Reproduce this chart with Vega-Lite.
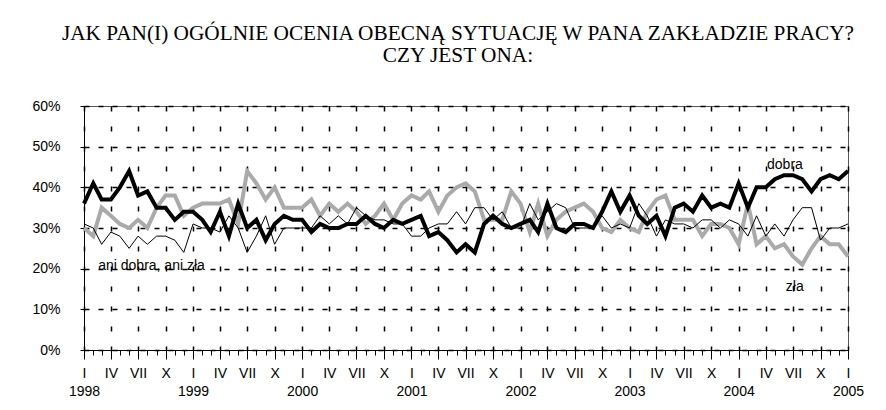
{
  "$schema": "https://vega.github.io/schema/vega-lite/v6.json",
  "width": 764,
  "height": 244,
  "autosize": "none",
  "padding": {"left": 84, "top": 106, "right": 38, "bottom": 60},
  "background": "white",
  "config": {"view": {"stroke": "#555555", "strokeWidth": 1}},
  "title": {
    "text": ["JAK PAN(I) OGÓLNIE OCENIA OBECNĄ SYTUACJĘ W PANA ZAKŁADZIE PRACY?", "CZY JEST ONA:"],
    "font": "Liberation Serif", "fontSize": 21.3, "fontWeight": "normal", "color": "black",
    "lineHeight": 22, "anchor": "middle", "frame": "group", "offset": 33, "dx": -8
  },
  "data": {"values": [
    {"date":"1998-01-01T00:00:00","dobra":36,"zla":30,"ani":31},
    {"date":"1998-02-01T00:00:00","dobra":41,"zla":28,"ani":30},
    {"date":"1998-03-01T00:00:00","dobra":37,"zla":35,"ani":26},
    {"date":"1998-04-01T00:00:00","dobra":37,"zla":33,"ani":29},
    {"date":"1998-05-01T00:00:00","dobra":40,"zla":31,"ani":28},
    {"date":"1998-06-01T00:00:00","dobra":44,"zla":30,"ani":25},
    {"date":"1998-07-01T00:00:00","dobra":38,"zla":32,"ani":28},
    {"date":"1998-08-01T00:00:00","dobra":39,"zla":30,"ani":26},
    {"date":"1998-09-01T00:00:00","dobra":35,"zla":35,"ani":28},
    {"date":"1998-10-01T00:00:00","dobra":35,"zla":38,"ani":28},
    {"date":"1998-11-01T00:00:00","dobra":32,"zla":38,"ani":27},
    {"date":"1998-12-01T00:00:00","dobra":34,"zla":33,"ani":24},
    {"date":"1999-01-01T00:00:00","dobra":34,"zla":35,"ani":31},
    {"date":"1999-02-01T00:00:00","dobra":32,"zla":36,"ani":30},
    {"date":"1999-03-01T00:00:00","dobra":29,"zla":36,"ani":30},
    {"date":"1999-04-01T00:00:00","dobra":34,"zla":36,"ani":29},
    {"date":"1999-05-01T00:00:00","dobra":28,"zla":37,"ani":33},
    {"date":"1999-06-01T00:00:00","dobra":36,"zla":31,"ani":30},
    {"date":"1999-07-01T00:00:00","dobra":30,"zla":44,"ani":24},
    {"date":"1999-08-01T00:00:00","dobra":32,"zla":41,"ani":28},
    {"date":"1999-09-01T00:00:00","dobra":27,"zla":37,"ani":33},
    {"date":"1999-10-01T00:00:00","dobra":31,"zla":40,"ani":26},
    {"date":"1999-11-01T00:00:00","dobra":33,"zla":35,"ani":30},
    {"date":"1999-12-01T00:00:00","dobra":32,"zla":35,"ani":30},
    {"date":"2000-01-01T00:00:00","dobra":32,"zla":35,"ani":30},
    {"date":"2000-02-01T00:00:00","dobra":29,"zla":37,"ani":30},
    {"date":"2000-03-01T00:00:00","dobra":31,"zla":33,"ani":33},
    {"date":"2000-04-01T00:00:00","dobra":30,"zla":36,"ani":31},
    {"date":"2000-05-01T00:00:00","dobra":30,"zla":34,"ani":33},
    {"date":"2000-06-01T00:00:00","dobra":31,"zla":36,"ani":31},
    {"date":"2000-07-01T00:00:00","dobra":31,"zla":34,"ani":35},
    {"date":"2000-08-01T00:00:00","dobra":33,"zla":31,"ani":33},
    {"date":"2000-09-01T00:00:00","dobra":31,"zla":33,"ani":32},
    {"date":"2000-10-01T00:00:00","dobra":30,"zla":36,"ani":32},
    {"date":"2000-11-01T00:00:00","dobra":32,"zla":32,"ani":31},
    {"date":"2000-12-01T00:00:00","dobra":31,"zla":36,"ani":31},
    {"date":"2001-01-01T00:00:00","dobra":32,"zla":38,"ani":28},
    {"date":"2001-02-01T00:00:00","dobra":33,"zla":37,"ani":28},
    {"date":"2001-03-01T00:00:00","dobra":28,"zla":39,"ani":30},
    {"date":"2001-04-01T00:00:00","dobra":29,"zla":34,"ani":31},
    {"date":"2001-05-01T00:00:00","dobra":27,"zla":38,"ani":31},
    {"date":"2001-06-01T00:00:00","dobra":24,"zla":40,"ani":34},
    {"date":"2001-07-01T00:00:00","dobra":26,"zla":41,"ani":31},
    {"date":"2001-08-01T00:00:00","dobra":24,"zla":39,"ani":35},
    {"date":"2001-09-01T00:00:00","dobra":31,"zla":32,"ani":35},
    {"date":"2001-10-01T00:00:00","dobra":33,"zla":32,"ani":32},
    {"date":"2001-11-01T00:00:00","dobra":31,"zla":32,"ani":34},
    {"date":"2001-12-01T00:00:00","dobra":30,"zla":39,"ani":30},
    {"date":"2002-01-01T00:00:00","dobra":31,"zla":36,"ani":30},
    {"date":"2002-02-01T00:00:00","dobra":32,"zla":29,"ani":36},
    {"date":"2002-03-01T00:00:00","dobra":29,"zla":36,"ani":32},
    {"date":"2002-04-01T00:00:00","dobra":36,"zla":28,"ani":34},
    {"date":"2002-05-01T00:00:00","dobra":30,"zla":32,"ani":36},
    {"date":"2002-06-01T00:00:00","dobra":29,"zla":34,"ani":35},
    {"date":"2002-07-01T00:00:00","dobra":31,"zla":35,"ani":30},
    {"date":"2002-08-01T00:00:00","dobra":31,"zla":36,"ani":30},
    {"date":"2002-09-01T00:00:00","dobra":30,"zla":34,"ani":30},
    {"date":"2002-10-01T00:00:00","dobra":34,"zla":30,"ani":33},
    {"date":"2002-11-01T00:00:00","dobra":39,"zla":29,"ani":30},
    {"date":"2002-12-01T00:00:00","dobra":34,"zla":32,"ani":31},
    {"date":"2003-01-01T00:00:00","dobra":38,"zla":30,"ani":30},
    {"date":"2003-02-01T00:00:00","dobra":33,"zla":29,"ani":36},
    {"date":"2003-03-01T00:00:00","dobra":31,"zla":34,"ani":33},
    {"date":"2003-04-01T00:00:00","dobra":33,"zla":37,"ani":28},
    {"date":"2003-05-01T00:00:00","dobra":28,"zla":38,"ani":32},
    {"date":"2003-06-01T00:00:00","dobra":35,"zla":32,"ani":31},
    {"date":"2003-07-01T00:00:00","dobra":36,"zla":32,"ani":31},
    {"date":"2003-08-01T00:00:00","dobra":34,"zla":32,"ani":30},
    {"date":"2003-09-01T00:00:00","dobra":38,"zla":28,"ani":32},
    {"date":"2003-10-01T00:00:00","dobra":35,"zla":31,"ani":32},
    {"date":"2003-11-01T00:00:00","dobra":36,"zla":31,"ani":30},
    {"date":"2003-12-01T00:00:00","dobra":35,"zla":30,"ani":32},
    {"date":"2004-01-01T00:00:00","dobra":41,"zla":26,"ani":31},
    {"date":"2004-02-01T00:00:00","dobra":35,"zla":36,"ani":28},
    {"date":"2004-03-01T00:00:00","dobra":40,"zla":26,"ani":33},
    {"date":"2004-04-01T00:00:00","dobra":40,"zla":28,"ani":28},
    {"date":"2004-05-01T00:00:00","dobra":42,"zla":25,"ani":31},
    {"date":"2004-06-01T00:00:00","dobra":43,"zla":26,"ani":28},
    {"date":"2004-07-01T00:00:00","dobra":43,"zla":23,"ani":32},
    {"date":"2004-08-01T00:00:00","dobra":42,"zla":21,"ani":35},
    {"date":"2004-09-01T00:00:00","dobra":39,"zla":25,"ani":35},
    {"date":"2004-10-01T00:00:00","dobra":42,"zla":28,"ani":27},
    {"date":"2004-11-01T00:00:00","dobra":43,"zla":26,"ani":30},
    {"date":"2004-12-01T00:00:00","dobra":42,"zla":26,"ani":30},
    {"date":"2005-01-01T00:00:00","dobra":44,"zla":23,"ani":31}
  ]},
  "transform": [{"fold": ["zla", "dobra", "ani"], "as": ["series", "value"]}],
  "encoding": {
    "x": {"field": "date", "type": "temporal",
      "scale": {"domain": [{"year": 1998, "month": 1, "date": 1}, {"year": 2005, "month": 1, "date": 1}], "nice": false},
      "axis": {"orient": "bottom", "title": null, "tickCount": {"interval": "month", "step": 1},
        "labelExpr": "month(datum.value) % 3 != 0 ? '' : month(datum.value)==0 ? ['I', timeFormat(datum.value, '%Y')] : month(datum.value)==3 ? 'IV' : month(datum.value)==6 ? 'VII' : 'X'",
        "tickSize": {"condition": {"test": "month(datum.value) % 3 == 0", "value": 9}, "value": 5},
        "tickColor": "black", "domainColor": "black",
        "grid": true, "gridDash": [5, 15], "gridColor": "black", "gridWidth": 1.5,
        "gridOpacity": {"condition": {"test": "month(datum.value) % 3 == 0", "value": 1}, "value": 0},
        "labelFont": "Liberation Sans", "labelFontSize": 14, "labelColor": "black",
        "labelPadding": 7, "labelLineHeight": 18, "labelOverlap": false, "labelFlush": false, "labelBound": false}},
    "y": {"field": "value", "type": "quantitative",
      "scale": {"domain": [0, 60], "nice": false},
      "axis": {"title": null, "values": [0, 10, 20, 30, 40, 50, 60], "labelExpr": "datum.value + '%'",
        "tickSize": 4, "labelPadding": 20, "tickColor": "black", "domainColor": "black",
        "grid": true, "gridDash": [5, 9], "gridColor": "black", "gridWidth": 1.5, "gridOpacity": 1,
        "labelFont": "Liberation Sans", "labelFontSize": 14, "labelColor": "black"}}
  },
  "layer": [
    {
      "transform": [{"filter": "datum.series == 'zla'"}],
      "mark": {"type": "line", "color": "#aaaaaa", "strokeWidth": 4}
    },
    {
      "transform": [{"filter": "datum.series == 'dobra'"}],
      "mark": {"type": "line", "color": "black", "strokeWidth": 4}
    },
    {
      "transform": [{"filter": "datum.series == 'ani'"}],
      "mark": {"type": "line", "color": "black", "strokeWidth": 1}
    },
    {
      "data": {"values": [
        {"date": "2004-06-04T00:00:00", "value": 45.5, "t": "dobra"},
        {"date": "2004-07-07T00:00:00", "value": 15.5, "t": "zła"},
        {"date": "1998-08-15T00:00:00", "value": 20.6, "t": "ani dobra, ani zła"}
      ]},
      "transform": [],
      "mark": {"type": "text", "font": "Liberation Sans", "fontSize": 14, "color": "black", "baseline": "middle", "align": "center"},
      "encoding": {"text": {"field": "t"}}
    }
  ]
}
